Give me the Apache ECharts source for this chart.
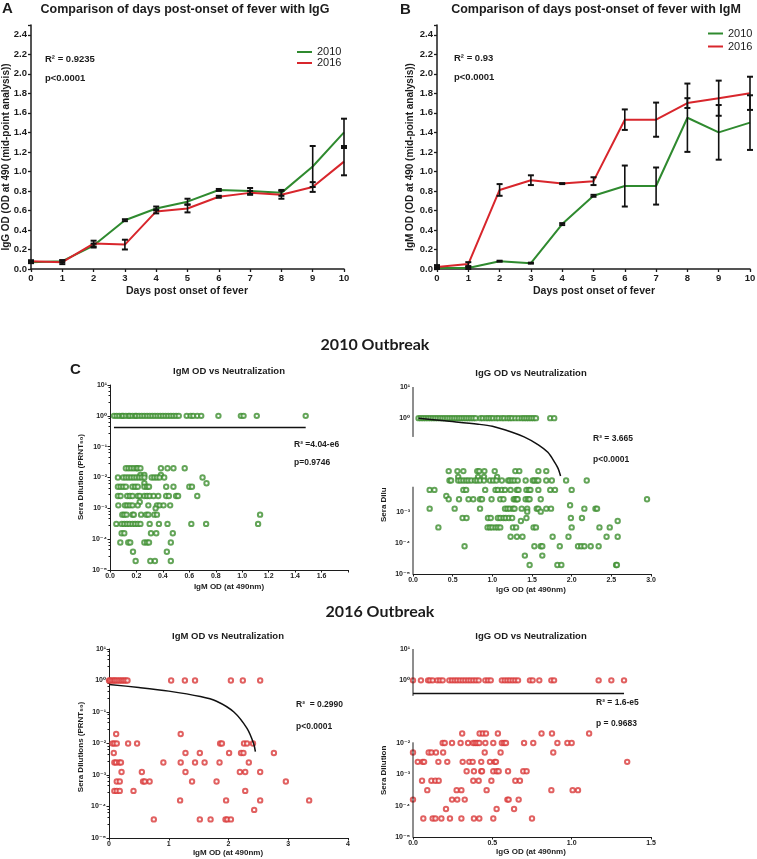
<!DOCTYPE html>
<html><head><meta charset="utf-8">
<script src="https://cdn.jsdelivr.net/npm/echarts@6/dist/echarts.min.js"></script>
<style>html,body{margin:0;padding:0;background:#fff}#c{width:757px;height:859px}</style>
</head><body><div id="c"></div><script>
// ---------------- data ----------------
const days = [0,1,2,3,4,5,6,7,8,9,10];
// Panel A: IgG OD
const igg2010    = [0.07,0.08,0.24,0.50,0.62,0.69,0.81,0.80,0.78,1.05,1.40];
const igg2010Err = [0.01,0.01,0.02,0.01,0.02,0.03,0.01,0.03,0.03,0.21,0.14];
const igg2016    = [0.08,0.07,0.26,0.25,0.59,0.62,0.74,0.78,0.76,0.84,1.10];
const igg2016Err = [0.01,0.02,0.03,0.05,0.02,0.04,0.01,0.02,0.04,0.05,0.14];
// Panel B: IgM OD
const igm2010    = [0.01,0.01,0.08,0.06,0.46,0.75,0.85,0.85,1.55,1.40,1.50];
const igm2010Err = [0.01,0.01,0.005,0.005,0.01,0.01,0.21,0.19,0.35,0.28,0.28];
const igm2016    = [0.02,0.05,0.81,0.91,0.875,0.90,1.53,1.53,1.70,1.75,1.80];
const igm2016Err = [0.02,0.02,0.06,0.05,0.005,0.04,0.105,0.175,0.05,0.18,0.17];

// Scatter panels: rows of [sera dilution, [OD values]]
const c1Rows = [ // 2010 IgM
  [1,[0.03,0.05,0.07,0.09,0.10,0.12,0.14,0.15,0.17,0.19,0.20,0.22,0.24,0.26,0.28,0.30,0.32,0.34,0.36,0.38,0.40,0.42,0.44,0.46,0.48,0.50,0.52,0.58,0.61,0.63,0.66,0.69,0.82,0.99,1.01,1.11,1.48]],
  [0.02,[0.12,0.14,0.16,0.18,0.20,0.21,0.23,0.385,0.435,0.48,0.565]],
  [0.012,[0.23,0.26,0.385]],
  [0.01,[0.06,0.10,0.12,0.14,0.16,0.18,0.20,0.22,0.24,0.26,0.315,0.335,0.355,0.375,0.41,0.70]],
  [0.0065,[0.26,0.73]],
  [0.005,[0.06,0.08,0.10,0.12,0.17,0.19,0.21,0.26,0.28,0.295,0.425,0.48,0.60,0.62]],
  [0.0025,[0.06,0.08,0.13,0.15,0.17,0.21,0.225,0.26,0.28,0.30,0.33,0.365,0.425,0.445,0.50,0.515,0.66]],
  [0.0016,[0.225]],
  [0.00125,[0.063,0.113,0.13,0.15,0.17,0.21,0.29,0.355,0.375,0.405,0.455]],
  [0.001,[0.345]],
  [0.000625,[0.093,0.108,0.125,0.17,0.18,0.235,0.275,0.29,0.335,0.355,1.135]],
  [0.0003125,[0.048,0.088,0.108,0.128,0.148,0.17,0.19,0.21,0.23,0.30,0.37,0.435,0.615,0.727,1.12]],
  [0.00015625,[0.088,0.108,0.31,0.35,0.475]],
  [0.000078,[0.078,0.138,0.153,0.26,0.28,0.295,0.46]],
  [0.000039,[0.174,0.43]],
  [0.0000195,[0.194,0.305,0.34,0.46]]
];
const c2Rows = [ // 2010 IgG
  [1,[0.07,0.10,0.13,0.16,0.19,0.22,0.25,0.28,0.31,0.34,0.37,0.40,0.43,0.46,0.49,0.52,0.55,0.58,0.61,0.64,0.67,0.70,0.73,0.76,0.79,0.85,0.88,0.92,0.95,0.98,1.01,1.05,1.08,1.12,1.15,1.19,1.22,1.25,1.29,1.33,1.37,1.40,1.43,1.46,1.49,1.52,1.55,1.73,1.78]],
  [0.02,[0.45,0.56,0.635,0.81,0.835,0.90,1.03,1.29,1.34,1.58,1.68]],
  [0.013,[0.57,0.82,0.895,1.06]],
  [0.01,[0.46,0.48,0.57,0.60,0.635,0.67,0.70,0.735,0.78,0.81,0.845,0.895,0.97,1.01,1.05,1.12,1.20,1.22,1.25,1.28,1.32,1.42,1.51,1.53,1.56,1.58,1.68,1.75,1.93,2.19]],
  [0.005,[0.21,0.27,0.635,0.67,0.91,1.04,1.07,1.12,1.16,1.23,1.31,1.33,1.43,1.46,1.48,1.58,1.73,1.79,2.0]],
  [0.0032,[0.42]],
  [0.0025,[0.45,0.58,0.70,0.76,0.845,0.87,0.99,1.10,1.14,1.27,1.29,1.31,1.32,1.42,1.45,1.47,1.61,2.95]],
  [0.0016,[1.98]],
  [0.00125,[0.21,0.525,0.845,1.16,1.19,1.22,1.26,1.28,1.37,1.44,1.56,1.58,1.68,1.74,2.16,2.30,2.32]],
  [0.001,[1.44,1.61]],
  [0.000625,[0.625,0.675,0.945,0.98,1.07,1.10,1.14,1.17,1.21,1.25,1.43,1.99,2.13]],
  [0.0005,[1.36,2.58]],
  [0.0003125,[0.32,0.94,0.97,1.00,1.04,1.07,1.10,1.26,1.30,1.52,1.55,2.0,2.35,2.48]],
  [0.00015625,[1.23,1.31,1.38,1.76,1.96,2.44,2.58]],
  [0.000078,[0.65,1.53,1.61,1.63,1.85,2.08,2.12,2.16,2.24,2.34]],
  [0.000039,[1.41,1.63]],
  [0.0000195,[1.47,1.82,1.87,2.56,2.57]]
];
const d1Rows = [ // 2016 IgM
  [1,[0,0.02,0.05,0.08,0.10,0.13,0.16,0.19,0.22,0.25,0.28,0.31,1.04,1.27,1.44,2.04,2.24,2.53]],
  [0.02,[0.12,1.2]],
  [0.01,[0.06,0.09,0.13,0.32,0.47,1.86,1.89,2.26,2.31,2.41]],
  [0.005,[0.08,1.28,1.52,2.01,2.21,2.25,2.76]],
  [0.0025,[0.09,0.12,0.17,0.20,0.91,1.2,1.44,1.6,1.85,2.34]],
  [0.00125,[0.21,0.55,1.28,2.19,2.28,2.53]],
  [0.000625,[0.13,0.18,0.57,0.60,0.68,1.39,1.8,2.96]],
  [0.0003125,[0.09,0.13,0.18,0.41,2.28]],
  [0.00015625,[1.19,1.96,2.53,3.35]],
  [0.000078,[2.43]],
  [0.000039,[0.75,1.52,1.7,1.95,1.98,2.04]]
];
const d2Rows = [ // 2016 IgG
  [1,[0,0.05,0.095,0.107,0.124,0.153,0.17,0.187,0.229,0.246,0.263,0.279,0.296,0.313,0.33,0.347,0.363,0.38,0.397,0.414,0.456,0.473,0.49,0.56,0.578,0.595,0.611,0.628,0.645,0.662,0.737,0.754,0.796,0.872,0.889,1.17,1.25,1.33]],
  [0.02,[0.31,0.42,0.44,0.46,0.535,0.81,0.876,1.11]],
  [0.01,[0.187,0.2,0.246,0.30,0.347,0.38,0.393,0.405,0.418,0.456,0.506,0.56,0.574,0.586,0.70,0.758,0.91,0.973,1.0]],
  [0.005,[0,0.099,0.116,0.145,0.19,0.452,0.552,0.884]],
  [0.0025,[0.03,0.06,0.07,0.16,0.216,0.313,0.355,0.376,0.43,0.485,0.515,0.523,1.35]],
  [0.00125,[0.338,0.384,0.43,0.435,0.506,0.527,0.54,0.599,0.695,0.716]],
  [0.000625,[0.057,0.116,0.141,0.162,0.38,0.414,0.494,0.645,0.674]],
  [0.0003125,[0.09,0.275,0.305,0.464,0.872,1.006,1.04]],
  [0.00015625,[0,0.246,0.279,0.326,0.595,0.603,0.666]],
  [0.000078,[0.208,0.527,0.637]],
  [0.000039,[0.065,0.124,0.141,0.179,0.233,0.305,0.384,0.418,0.506,0.75]]
];
// fitted curves: [OD, dilution]
const c1Fit = [[0.03,0.42],[1.48,0.42]];
const c2Fit = [[0.07,1.0],[0.4,0.82],[0.82,0.64],[1.0,0.55],[1.24,0.36],[1.4,0.25],[1.58,0.14],[1.7,0.08],[1.79,0.037],[1.83,0.024],[1.86,0.014]];
const d1Fit = [[0,0.75],[0.5,0.6],[1.0,0.46],[1.53,0.31],[1.8,0.22],[2.09,0.1],[2.31,0.03],[2.42,0.01],[2.45,0.0055]];
const d2Fit = [[0,0.38],[1.33,0.38]];
// broken y-axis segments (dilution extents)
const c2AxisTop = [10,0.25], c2AxisBottom = [0.0063,1e-5];
const d2AxisTop = [10,0.32], d2AxisBottom = [0.0105,1e-5];

// ---------------- helpers ----------------
const GREEN='#2f8a2f', RED='#d8262c', INK='#1c1c1c';
const SC_GREEN='#3d8f2f', SC_RED='#d93a3a';
const FONT='"Liberation Sans", Arial, "DejaVu Sans", sans-serif';
const SUP={'-':'\u207B','0':'\u2070','1':'\u00B9','2':'\u00B2','3':'\u00B3','4':'\u2074','5':'\u2075'};
function logLabel(v){const e=Math.round(Math.log10(v));return '10'+String(e).split('').map(c=>SUP[c]).join('');}
function flatten(rows){const out=[];rows.forEach(r=>r[1].forEach(x=>out.push([x,r[0]])));return out;}

function errRender(params, api){
  const x=api.value(0), y=api.value(1), e=api.value(2);
  const hi=api.coord([x,y+e]), lo=api.coord([x,y-e]);
  const w=3, st={stroke:'#111',lineWidth:1.6}, cs={stroke:'#111',lineWidth:2};
  return {type:'group',children:[
    {type:'line',shape:{x1:hi[0],y1:hi[1],x2:lo[0],y2:lo[1]},style:st},
    {type:'line',shape:{x1:hi[0]-w,y1:hi[1],x2:hi[0]+w,y2:hi[1]},style:cs},
    {type:'line',shape:{x1:lo[0]-w,y1:lo[1],x2:lo[0]+w,y2:lo[1]},style:cs}
  ]};
}
function grid(left,top,width,height){return {left,top,width,height,containLabel:false,outerBoundsMode:'none'};}
function odX(gi){return {type:'value',gridIndex:gi,min:0,max:10,interval:1,
  axisLine:{onZero:false,lineStyle:{color:INK,width:1.5}},axisTick:{length:3,lineStyle:{color:INK,width:1.3}},
  axisLabel:{margin:4,fontSize:9.5,fontWeight:'bold',color:INK,fontFamily:FONT},splitLine:{show:false}};}
function odY(gi){return {type:'value',gridIndex:gi,min:0,max:2.5,interval:0.2,
  axisLine:{show:true,onZero:false,lineStyle:{color:INK,width:1.5}},axisTick:{show:true,length:3,lineStyle:{color:INK,width:1.3}},
  axisLabel:{margin:4,fontSize:9.5,fontWeight:'bold',color:INK,fontFamily:FONT,formatter:v=>v>2.45?'':v.toFixed(1)},splitLine:{show:false}};}
function scX(gi,max,interval,labelMax,fmt){return {type:'value',gridIndex:gi,min:0,max,interval,
  axisLine:{onZero:false,lineStyle:{color:INK,width:1}},axisTick:{length:2.5,lineStyle:{color:INK}},
  axisLabel:{margin:3,fontSize:7,fontWeight:'bold',color:INK,fontFamily:FONT,formatter:v=>v>labelMax+1e-9?'':fmt(v)},splitLine:{show:false}};}
function scY(gi,hidden,broken){return {type:'log',logBase:10,gridIndex:gi,min:1e-5,max:10,
  axisLine:{show:!broken,onZero:false,lineStyle:{color:INK,width:1}},axisTick:{show:!broken,length:2.5,lineStyle:{color:INK}},
  minorTick:{show:!broken,splitNumber:5,length:1.5,lineStyle:{color:INK}},
  axisLabel:{margin:3,fontSize:7,fontWeight:'bold',color:INK,fontFamily:FONT,
    formatter:v=>{const e=Math.round(Math.log10(v));return hidden.indexOf(e)>=0?'':logLabel(v);}},splitLine:{show:false}};}
function scatter(gi,rows,color){return {type:'scatter',xAxisIndex:gi,yAxisIndex:gi,data:flatten(rows),symbol:'emptyCircle',symbolSize:4.4,
  itemStyle:{color:color,borderColor:color,borderWidth:1.1},z:3,silent:true};}
function fit(gi,data,smooth){return {type:'line',xAxisIndex:gi,yAxisIndex:gi,data,symbol:'none',smooth:smooth?0.3:false,
  lineStyle:{color:'#111',width:1.5},z:4,silent:true};}
function seg(gi,ext){return {type:'line',xAxisIndex:gi,yAxisIndex:gi,data:[[0,ext[0]],[0,ext[1]]],symbol:'none',
  lineStyle:{color:INK,width:1},z:4,silent:true};}
function T(text,x,y,size,o){o=o||{};return {type:'text',x,y,rotation:o.rot||0,z:10,silent:true,
  style:{text,font:(o.weight||'bold')+' '+size+'px '+(o.family||FONT),fill:o.color||INK,
    textAlign:o.align||'center',textVerticalAlign:'middle',align:o.align||'center',verticalAlign:'middle'}};}

const lineSeries=(gi,name,vals,color)=>({type:'line',name,xAxisIndex:gi,yAxisIndex:gi,data:days.map((d,i)=>[d,vals[i]]),
  symbol:'none',lineStyle:{color,width:2},itemStyle:{color},z:2,silent:true});
const errSeries=(gi,vals,errs)=>({type:'custom',xAxisIndex:gi,yAxisIndex:gi,data:days.map((d,i)=>[d,vals[i],errs[i]]),
  renderItem:errRender,encode:{x:0,y:1},z:5,silent:true});

const R=Math.PI/2;
const option={
  animation:false,
  backgroundColor:'#fff',
  grid:[grid(31,25,313,244),grid(437,25,313,244),grid(110,385,238,185),grid(413,387,238,187),grid(109,649,239,189),grid(413,649,238,188)],
  xAxis:[odX(0),odX(1),
    scX(2,1.8,0.2,1.6,v=>v.toFixed(1)),scX(3,3,0.5,3,v=>v.toFixed(1)),
    scX(4,4,1,4,v=>String(v)),scX(5,1.5,0.5,1.5,v=>v.toFixed(1))],
  yAxis:[odY(0),odY(1),scY(2,[],false),scY(3,[-1,-2],true),scY(4,[],false),scY(5,[-1],true)],
  legend:[
    {left:297,top:46.5,orient:'vertical',padding:0,itemGap:0,itemWidth:15,itemHeight:2,icon:'rect',
     textStyle:{fontSize:11,lineHeight:11,color:INK,fontFamily:FONT},data:['2010','2016'],selectedMode:false},
    {left:708,top:28,orient:'vertical',padding:0,itemGap:2,itemWidth:15,itemHeight:2,icon:'rect',
     textStyle:{fontSize:11,lineHeight:11,color:INK,fontFamily:FONT},data:['2010','2016'],selectedMode:false}
  ],
  series:[
    lineSeries(0,'2010',igg2010,GREEN),lineSeries(0,'2016',igg2016,RED),
    errSeries(0,igg2010,igg2010Err),errSeries(0,igg2016,igg2016Err),
    lineSeries(1,'2010',igm2010,GREEN),lineSeries(1,'2016',igm2016,RED),
    errSeries(1,igm2010,igm2010Err),errSeries(1,igm2016,igm2016Err),
    scatter(2,c1Rows,SC_GREEN),fit(2,c1Fit,false),
    scatter(3,c2Rows,SC_GREEN),fit(3,c2Fit,true),seg(3,c2AxisTop),seg(3,c2AxisBottom),
    scatter(4,d1Rows,SC_RED),fit(4,d1Fit,true),
    scatter(5,d2Rows,SC_RED),fit(5,d2Fit,false),seg(5,d2AxisTop),seg(5,d2AxisBottom)
  ],
  graphic:[
    T('A',2,9,15,{align:'left'}),
    T('Comparison of days post-onset of fever with IgG',185,10,12.5),
    T('B',400,10,15,{align:'left'}),
    T('Comparison of days post-onset of fever with IgM',596,10,12.5),
    T('R\u00B2 = 0.9235',45,59,9.5,{align:'left'}),T('p<0.0001',45,78,9.5,{align:'left'}),
    T('R\u00B2 = 0.93',454,58,9.5,{align:'left'}),T('p<0.0001',454,77,9.5,{align:'left'}),
    T('Days post onset of fever',187,291,10.5),T('Days post onset of fever',594,291,10.5),
    T('IgG OD (OD at 490 (mid-point analysis))',6,157,10,{rot:R}),
    T('IgM OD (OD at 490 (mid-point analysis))',410,157,10,{rot:R}),
    T('2010 Outbreak',375,345,16,{family:'Lato, "Open Sans", sans-serif'}),
    T('2016 Outbreak',380,612,16,{family:'Lato, "Open Sans", sans-serif'}),
    T('C',70,370,15,{align:'left'}),
    T('IgM OD vs Neutralization',229,371,9.5),T('IgG OD vs Neutralization',531,373,9.5),
    T('IgM OD vs Neutralization',228,636,9.5),T('IgG OD vs Neutralization',531,636,9.5),
    T('IgM OD (at 490nm)',229,587,8),T('IgG OD (at 490nm)',531,590,8),
    T('IgM OD (at 490nm)',228,853,8),T('IgG OD (at 490nm)',531,852,8),
    T('Sera Dilution (PRNT\u2085\u2080)',81,477,8,{rot:R}),
    T('Sera Dilu',384,522,8,{rot:R,align:'left'}),
    T('Sera Dilutions (PRNT\u2085\u2080)',81,747,8,{rot:R}),
    T('Sera Dilution',384,795,8,{rot:R,align:'left'}),
    T('R\u00B2 =4.04-e6',294,445,8.5,{align:'left'}),T('p=0.9746',294,463,8.5,{align:'left'}),
    T('R\u00B2 = 3.665',593,439,8.5,{align:'left'}),T('p<0.0001',593,460,8.5,{align:'left'}),
    T('R\u00B2  = 0.2990',296,705,8.5,{align:'left'}),T('p<0.0001',296,727,8.5,{align:'left'}),
    T('R\u00B2 = 1.6-e5',596,703,8.5,{align:'left'}),T('p = 0.9683',596,724,8.5,{align:'left'})
  ]
};
const chart=echarts.init(document.getElementById('c'),null,{renderer:'canvas'});
chart.setOption(option);
</script></body></html>
